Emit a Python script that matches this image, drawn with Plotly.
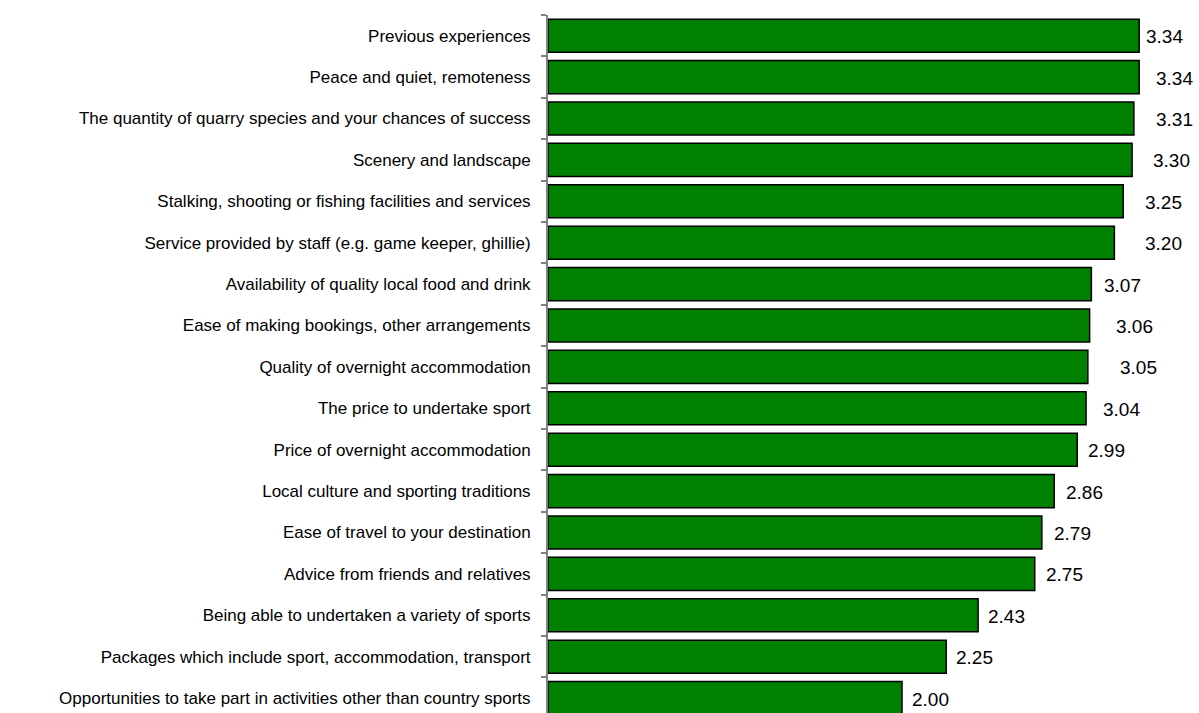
import plotly.graph_objects as go

categories = [
    "Previous experiences",
    "Peace and quiet, remoteness",
    "The quantity of quarry species and your chances of success",
    "Scenery and landscape",
    "Stalking, shooting or fishing facilities and services",
    "Service provided by staff (e.g. game keeper, ghillie)",
    "Availability of quality local food and drink",
    "Ease of making bookings, other arrangements",
    "Quality of overnight accommodation",
    "The price to undertake sport",
    "Price of overnight accommodation",
    "Local culture and sporting traditions",
    "Ease of travel to your destination",
    "Advice from friends and relatives",
    "Being able to undertaken a variety of sports",
    "Packages which include sport, accommodation, transport",
    "Opportunities to take part in activities other than country sports",
]
scores = [3.34, 3.34, 3.31, 3.30, 3.25, 3.20, 3.07, 3.06, 3.05, 3.04,
          2.99, 2.86, 2.79, 2.75, 2.43, 2.25, 2.00]

# pixel gap between each bar end and its value label
label_gaps = [5, 15, 20, 19, 20, 29, 11, 24, 30, 15, 9, 10, 10, 9, 8, 8, 8]

FONT = "Liberation Sans, Arial, sans-serif"

fig = go.Figure(
    go.Bar(
        x=scores,
        y=categories,
        orientation="h",
        width=0.8,
        marker=dict(color="#008000", line=dict(color="#000000", width=1.5)),
        hoverinfo="x+y",
    )
)

for cat, val, gap in zip(categories, scores, label_gaps):
    fig.add_annotation(
        x=val,
        y=cat,
        text=f"{val:.2f}",
        showarrow=False,
        xanchor="left",
        yanchor="middle",
        xshift=gap,
        yshift=-1,
        font=dict(family=FONT, size=19, color="#000000"),
    )

fig.update_layout(
    width=1199,
    height=713,
    margin=dict(l=548, r=0, t=15, b=0),
    plot_bgcolor="#ffffff",
    paper_bgcolor="#ffffff",
    showlegend=False,
    bargap=0.2,
    font=dict(family=FONT, size=17, color="#000000"),
    xaxis=dict(
        range=[0, 3.678],
        visible=False,
        showgrid=False,
        zeroline=False,
    ),
    yaxis=dict(
        type="category",
        range=[16.36, -0.5],
        showline=True,
        linecolor="#808080",
        linewidth=2,
        ticks="outside",
        tickson="boundaries",
        ticklen=5,
        tickcolor="#808080",
        tickwidth=2,
        showgrid=False,
        ticklabelstandoff=12,
        tickfont=dict(family=FONT, size=17, color="#000000"),
    ),
)

fig.write_html("out.html")
